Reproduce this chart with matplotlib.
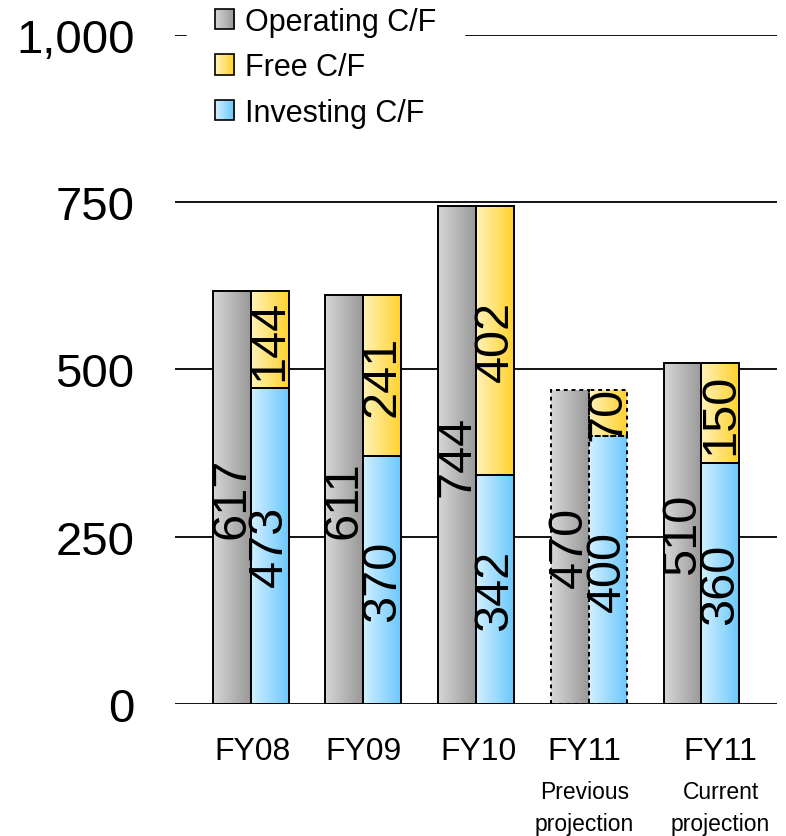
import numpy as np
import matplotlib
matplotlib.use("Agg")
from matplotlib import pyplot as plt
from matplotlib.colors import LinearSegmentedColormap
from matplotlib.patches import Patch, Rectangle
from matplotlib.legend_handler import HandlerBase

plt.rcParams['font.family'] = ['Liberation Sans', 'DejaVu Sans']

# data
years = ['FY08', 'FY09', 'FY10', 'FY11', 'FY11']
notes = ['', '', '', 'Previous\nprojection', 'Current\nprojection']
operating = [617, 611, 744, 470, 510]
investing = [473, 370, 342, 400, 360]
free_cf = [144, 241, 402, 70, 150]
projected_prev = [False, False, False, True, False]

GREY = ('#d6d6d6', '#999999')
BLUE = ('#d2f0ff', '#6cc8fb')
YELLOW = ('#fff2b8', '#ffd22e')


def grad_fill(ax, patch, c1, c2):
    """fill a bar patch with a left-to-right gradient"""
    cmap = LinearSegmentedColormap.from_list('g', [c1, c2])
    x0, y0 = patch.get_xy()
    w, h = patch.get_width(), patch.get_height()
    im = ax.imshow(np.linspace(0, 1, 64).reshape(1, -1), cmap=cmap,
                   extent=[x0, x0 + w, y0, y0 + h], aspect='auto',
                   interpolation='bilinear', zorder=2.5)
    im.set_clip_path(patch)


class GradHandler(HandlerBase):
    """legend box with the same gradient as the bars"""
    def __init__(self, c1, c2):
        super().__init__()
        self.cmap = LinearSegmentedColormap.from_list('g', [c1, c2])

    def create_artists(self, legend, orig_handle, xdescent, ydescent,
                       width, height, fontsize, trans):
        n = 12
        arts = []
        for k in range(n):
            arts.append(Rectangle((-xdescent + width * k / n, -ydescent),
                                  width / n + 0.3, height,
                                  facecolor=self.cmap(k / (n - 1)),
                                  edgecolor='none', transform=trans))
        arts.append(Rectangle((-xdescent, -ydescent), width, height,
                              facecolor='none', edgecolor='black', lw=1.2,
                              transform=trans))
        return arts


fig = plt.figure(figsize=(7.86, 8.37), dpi=100)
ax = fig.add_axes([0.2226, 0.1577, 0.766, 0.7993])

x = np.arange(len(years))
w = 0.337

for yv in [250, 500, 750, 1000]:
    ax.axhline(yv, color='black', lw=1.3, zorder=1)
ax.axhline(0, color='black', lw=1.3, zorder=4)

for i in range(len(years)):
    ls = (0, (2, 2)) if projected_prev[i] else '-'
    lw = 1.4
    g = ax.bar(x[i] - w / 2, operating[i], w, facecolor='none',
               edgecolor='black', lw=lw, ls=ls, zorder=3)[0]
    b = ax.bar(x[i] + w / 2, investing[i], w, facecolor='none',
               edgecolor='black', lw=lw, ls=ls, zorder=3)[0]
    f = ax.bar(x[i] + w / 2, free_cf[i], w, bottom=investing[i],
               facecolor='none', edgecolor='black', lw=lw, ls=ls, zorder=3)[0]
    grad_fill(ax, g, *GREY)
    grad_fill(ax, b, *BLUE)
    grad_fill(ax, f, *YELLOW)

    ax.text(x[i] - w / 2, operating[i] / 2, str(operating[i]), rotation=90,
            ha='center', va='center', fontsize=35, zorder=5)
    ax.text(x[i] + w / 2, investing[i] / 2, str(investing[i]), rotation=90,
            ha='center', va='center', fontsize=35, zorder=5)
    ax.text(x[i] + w / 2, investing[i] + free_cf[i] / 2, str(free_cf[i]),
            rotation=90, ha='center', va='center', fontsize=35, zorder=5)

ax.set_xlim(-0.67, 4.67)
ax.set_ylim(0, 1000)

for s in ax.spines.values():
    s.set_visible(False)

ax.set_yticks([0, 250, 500, 750, 1000])
ax.set_yticklabels(['0', '250', '500', '750', '1,000'])
ax.tick_params(axis='y', length=0, pad=29, labelsize=34)

tick_x = x + np.array([0.02, 0.0, 0.02, -0.04, 0.17])
ax.set_xticks(tick_x)
ax.set_xticklabels(years)
ax.tick_params(axis='x', length=0, pad=23, labelsize=23)

for i, n in enumerate(notes):
    if n:
        top, bot = n.split('\n')
        ax.text(tick_x[i], -0.131, top, transform=ax.get_xaxis_transform(),
                ha='center', va='center', fontsize=16.5)
        ax.text(tick_x[i], -0.179, bot, transform=ax.get_xaxis_transform(),
                ha='center', va='center', fontsize=16.5)

handles = [Patch(), Patch(), Patch()]
hmap = {handles[0]: GradHandler(*GREY),
        handles[1]: GradHandler(*YELLOW),
        handles[2]: GradHandler(*BLUE)}
leg = ax.legend(handles, ['Operating C/F', 'Free C/F', 'Investing C/F'],
                handler_map=hmap,
                loc='upper left', bbox_to_anchor=(0.02, 1.083),
                fontsize=22, frameon=True, fancybox=False, framealpha=1,
                edgecolor='white', borderpad=0.9, borderaxespad=0,
                handlelength=0.65, handleheight=0.65, handletextpad=0.35,
                labelspacing=0.5)
leg.set_zorder(6)

fig.savefig('out.png', dpi=100)
